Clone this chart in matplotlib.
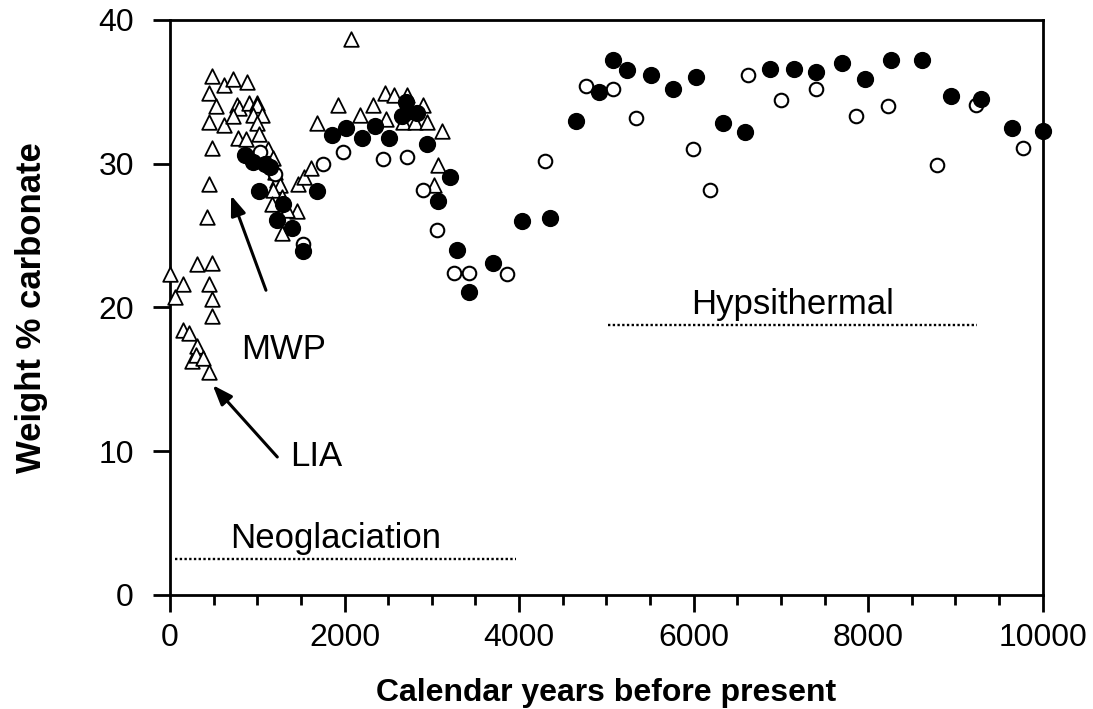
import numpy as np
import matplotlib
matplotlib.use("Agg")
from matplotlib import pyplot as plt

plt.rcParams['font.family'] = ['Liberation Sans', 'DejaVu Sans']

# open triangles (years BP, wt % carbonate)
tri_x = [0, 60, 150, 145, 221, 313, 248, 298, 374, 450, 313, 477, 450, 477, 477,
         485, 622, 725, 886, 450, 523, 764, 790, 908, 993, 1000, 450, 622, 718,
         954, 1050, 993, 783, 870, 1023, 485, 450, 420, 1126, 1184, 1203, 1222,
         1260, 1184, 1280, 1165, 1451, 1280, 1340, 1470, 1535, 1611, 1680, 1930,
         2070, 2176, 2329, 2463, 2566, 2711, 2730, 2902, 2474, 2672, 2806, 2940,
         3112, 3073, 3024]
tri_y = [22.3, 20.7, 21.6, 18.4, 18.2, 17.3, 16.3, 16.7, 16.5, 15.5, 23.0, 23.1,
         21.6, 20.6, 19.4,
         36.1, 35.5, 35.9, 35.7, 34.9, 34.0, 34.1, 33.9, 34.2, 34.2, 34.1, 32.9,
         32.7, 33.3, 33.4, 33.4, 32.8, 31.8, 31.7, 32.1, 31.1, 28.6, 26.3, 31.0,
         30.4, 29.4, 28.9, 28.5, 28.2, 27.7, 27.2, 26.7, 25.2, 26.8, 28.6, 29.1,
         29.7, 32.8, 34.1, 38.7, 33.4, 34.1, 34.9, 34.8, 34.8, 34.0, 34.1, 33.1,
         32.9, 32.9, 32.9, 32.3, 29.9, 28.5]

# filled circles
fill_x = [859, 954, 1088, 1023, 1145, 1298, 1222, 1394, 1520, 1680, 1852, 2016,
          2196, 2348, 2512, 2654, 2711, 2825, 2700, 2940, 3207, 3073, 3290, 3429,
          3696, 4028, 4360, 4651, 4918, 5078, 5238, 5506, 5765, 6025, 6331, 6587,
          6880, 7148, 7407, 7704, 7961, 8267, 8622, 8954, 9297, 9653, 10000]
fill_y = [30.6, 30.1, 30.0, 28.1, 29.8, 27.2, 26.1, 25.5, 23.9, 28.1, 32.0, 32.5,
          31.8, 32.6, 31.8, 33.3, 33.6, 33.5, 34.3, 31.4, 29.1, 27.4, 24.0, 21.1,
          23.1, 26.0, 26.2, 33.0, 35.0, 37.2, 36.5, 36.2, 35.2, 36.0, 32.8, 32.2,
          36.6, 36.6, 36.4, 37.0, 35.9, 37.2, 37.2, 34.7, 34.5, 32.5, 32.3]

# open circles
open_x = [1031, 1203, 1527, 1756, 1978, 2444, 2711, 2902, 3062, 3260, 3429, 3857,
          4296, 4772, 5078, 5345, 5994, 6193, 6624, 7006, 7407, 7865, 8228, 8789,
          9240, 9774]
open_y = [30.8, 29.3, 24.4, 30.0, 30.8, 30.3, 30.5, 28.2, 25.4, 22.4, 22.4, 22.3,
          30.2, 35.4, 35.2, 33.2, 31.0, 28.2, 36.2, 34.4, 35.2, 33.3, 34.0, 29.9,
          34.1, 31.1]

fig = plt.figure(figsize=(10.93, 7.09), dpi=100)
ax = fig.add_axes([0.1555, 0.1608, 0.7985, 0.811])

ax.scatter(tri_x, tri_y, marker='^', s=110, facecolors='white', edgecolors='black',
           linewidths=1.3, clip_on=False, zorder=3)
ax.scatter(open_x, open_y, marker='o', s=95, facecolors='white', edgecolors='black',
           linewidths=1.5, clip_on=False, zorder=4)
ax.scatter(fill_x, fill_y, marker='o', s=130, facecolors='black', edgecolors='black',
           linewidths=1, clip_on=False, zorder=5)

# period bars
ax.plot([57, 3970], [2.5, 2.5], ls=(0, (1, 1)), color='black', lw=1.7)
ax.text(687, 3.3, 'Neoglaciation', fontsize=25, ha='left', va='baseline')
ax.plot([5017, 9244], [18.8, 18.8], ls=(0, (1, 1)), color='black', lw=1.7)
ax.text(5976, 19.55, 'Hypsithermal', fontsize=25, ha='left', va='baseline')

arrow = dict(arrowstyle='-|>,head_length=1.2,head_width=0.45', color='black', lw=2.2,
             shrinkA=0, shrinkB=0)
ax.annotate('', xy=(700, 27.8), xytext=(1100, 21.2), arrowprops=arrow)
ax.text(815, 17.1, 'MWP', fontsize=25, ha='left', va='center')
ax.annotate('', xy=(490, 14.6), xytext=(1230, 9.6), arrowprops=arrow)
ax.text(1375, 9.6, 'LIA', fontsize=25, ha='left', va='center')

ax.set_xlim(0, 10000)
ax.set_ylim(0, 40)
ax.set_xticks([0, 2000, 4000, 6000, 8000, 10000])
ax.set_xticks(np.arange(500, 10000, 500), minor=True)
ax.set_yticks([0, 10, 20, 30, 40])
ax.tick_params(axis='both', which='major', direction='out', length=12, width=2,
               labelsize=23, pad=8)
ax.tick_params(axis='y', which='major', pad=14)
ax.tick_params(axis='x', which='minor', direction='out', length=7, width=2)
for s in ax.spines.values():
    s.set_linewidth(2)

ax.set_xlabel('Calendar years before present', fontsize=23, fontweight='bold', labelpad=18)
ax.set_ylabel('Weight % carbonate', fontsize=25, fontweight='bold', labelpad=36)

plt.savefig('out.png', dpi=100)
plt.close()
